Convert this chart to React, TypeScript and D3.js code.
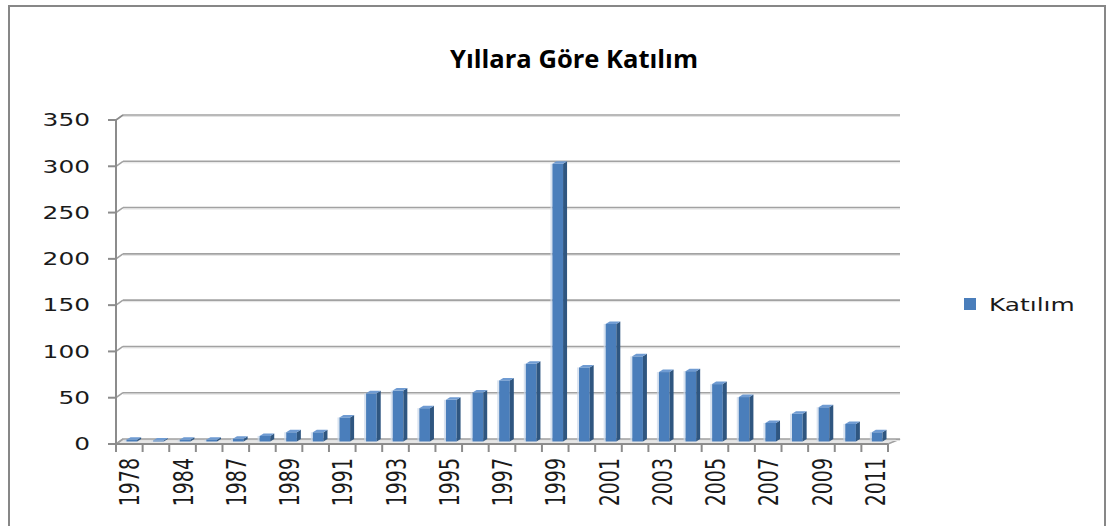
import * as d3 from 'd3';

const years = [
  '1978', '1983', '1984', '1986', '1987', '1988', '1989', '1990', '1991', '1992',
  '1993', '1994', '1995', '1996', '1997', '1998', '1999', '2000', '2001', '2002',
  '2003', '2004', '2005', '2006', '2007', '2008', '2009', '2010', '2011',
];
const katilim = [
  2, 1, 2, 2, 3, 6, 10, 10, 26, 52,
  55, 36, 45, 53, 66, 84, 300, 80, 127, 92,
  75, 76, 62, 48, 20, 30, 37, 19, 10,
];
const yTicks = [0, 50, 100, 150, 200, 250, 300, 350];

const W = 1109;
const H = 526;
// plot frame (front axis) and 3D depth offset of the back wall
const left = 116;
const right = 888;
const top = 120;
const bottom = 444;
const depthX = 7;
const depthY = 5;
const stretch = 1.38;

const axisColor = '#8c8c8c';
const gridColor = '#a2a2a2';
const barFront = '#4a7ebb';
const barSide = '#2f5680';
const barTop = '#6f9bd2';

export default function App() {
  const x = d3.scaleBand<string>().domain(years).range([left, right]).paddingInner(0.6).paddingOuter(0.3);
  const y = d3.scaleLinear().domain([0, 350]).range([bottom, top]);
  const step = x.step();
  const bw = x.bandwidth();
  const side = 4;
  const lift = 2.5;

  return (
    <svg
      width={W}
      height={H}
      style={{ position: 'absolute', left: 0, top: 0, background: '#fff' }}
      fontFamily="'DejaVu Sans', Verdana, sans-serif"
    >
      {/* chart border */}
      <rect x={9} y={6} width={1096} height={540} fill="none" stroke="#878787" strokeWidth={2} />

      <text
        x={574}
        y={68}
        textAnchor="middle"
        fontFamily="'Open Sans', 'Noto Sans', sans-serif"
        fontWeight="bold"
        fontSize={25}
        textLength={248}
        lengthAdjust="spacingAndGlyphs"
        fill="#000"
      >
        Yıllara Göre Katılım
      </text>

      {/* floor */}
      <path
        d={`M${left},${bottom} L${left + depthX},${bottom - depthY} L${right + 12},${bottom - depthY} L${right},${bottom} Z`}
        fill="#e6e6e6"
        stroke="#a0a0a0"
        strokeWidth={1.5}
      />

      {/* gridlines on the back wall */}
      {yTicks.map((t) => (
        <g key={t}>
          <line x1={left + depthX} x2={right + 12} y1={y(t) - depthY + 1.5} y2={y(t) - depthY + 1.5} stroke="#e2e2e2" strokeWidth={1} />
          {t > 0 && (
            <line x1={left + depthX} x2={right + 12} y1={y(t) - depthY} y2={y(t) - depthY} stroke={gridColor} strokeWidth={1.6} />
          )}
          <line x1={left} x2={left + depthX} y1={y(t)} y2={y(t) - depthY} stroke={gridColor} strokeWidth={1.6} />
          <line x1={left - 8} x2={left} y1={y(t)} y2={y(t)} stroke={axisColor} strokeWidth={2} />
          <text
            transform={`translate(90,${y(t)}) scale(${stretch},1)`}
            textAnchor="end"
            dominantBaseline="central"
            fontSize={18}
            fill="#1a1a1a"
          >
            {t}
          </text>
        </g>
      ))}

      {/* bars */}
      {years.map((yr, i) => {
        const x0 = (x(yr) as number) + 2.5;
        const y0 = bottom - lift;
        const y1 = y(katilim[i]) - lift;
        return (
          <g key={yr}>
            <rect x={x0 - 2} y={y1} width={2} height={y0 - y1} fill="#c9d7ea" opacity={0.7} />
            <rect x={x0} y={y1} width={bw} height={y0 - y1} fill={barFront} />
            <path
              d={`M${x0 + bw},${y0} L${x0 + bw},${y1} L${x0 + bw + side},${y1 - 2.5} L${x0 + bw + side},${y0 - 2.5} Z`}
              fill={barSide}
            />
            <path
              d={`M${x0},${y1} L${x0 + bw},${y1} L${x0 + bw + side},${y1 - 2.5} L${x0 + side},${y1 - 2.5} Z`}
              fill={barTop}
            />
          </g>
        );
      })}

      {/* front axes */}
      <line x1={left} x2={left} y1={top} y2={bottom} stroke={axisColor} strokeWidth={2} />
      <line x1={left} x2={left + depthX} y1={top} y2={top - depthY} stroke={axisColor} strokeWidth={1.5} />
      <line x1={left - 8} x2={right} y1={bottom} y2={bottom} stroke={axisColor} strokeWidth={2} />
      {d3.range(years.length + 1).map((i) => (
        <line key={i} x1={left + i * step} x2={left + i * step} y1={bottom} y2={bottom + 8} stroke={axisColor} strokeWidth={2} />
      ))}

      {/* category labels, every other one */}
      {years.map((yr, i) =>
        i % 2 === 0 ? (
          <text
            key={yr}
            transform={`translate(${(x(yr) as number) + bw / 2 + 1},458) scale(${stretch},1) rotate(-90)`}
            textAnchor="end"
            dominantBaseline="central"
            fontSize={19}
            fill="#1a1a1a"
          >
            {yr}
          </text>
        ) : null
      )}

      {/* legend */}
      <rect x={964} y={298} width={12} height={12} fill={barFront} />
      <text
        transform={`translate(989,305) scale(${stretch},1)`}
        dominantBaseline="central"
        fontSize={18}
        fill="#1a1a1a"
      >
        Katılım
      </text>
    </svg>
  );
}
